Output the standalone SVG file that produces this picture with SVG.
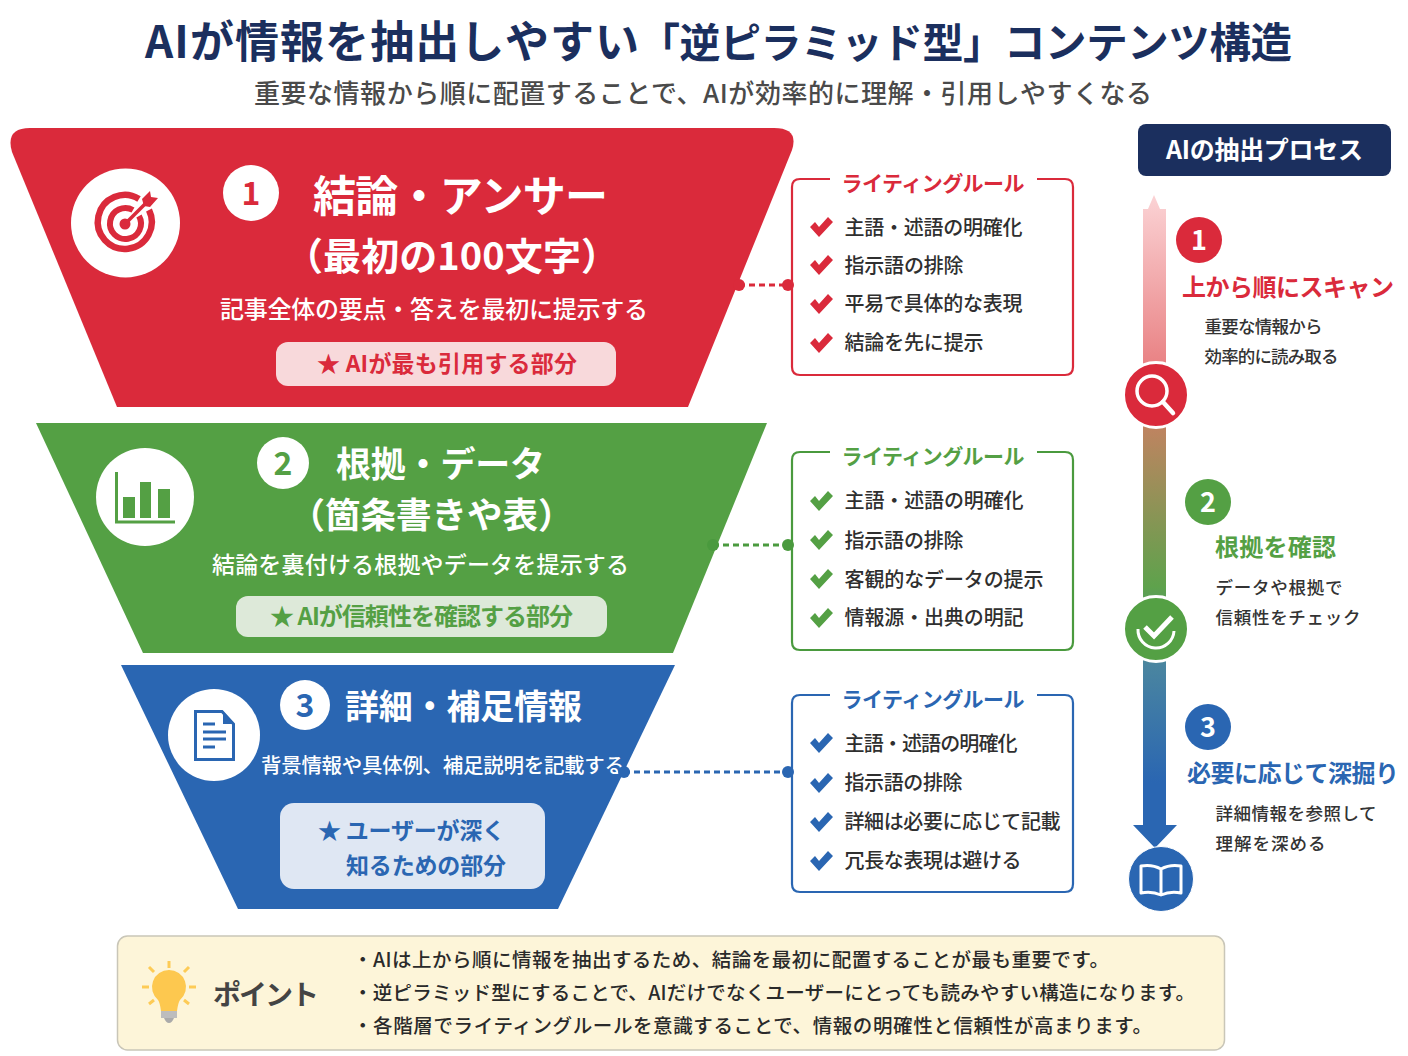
<svg xmlns="http://www.w3.org/2000/svg" xmlns:xlink="http://www.w3.org/1999/xlink" width="1408" height="1056" viewBox="0 0 1408 1056">
<style>
text{font-family:"Noto Sans CJK JP","Noto Sans",sans-serif;font-weight:700}
.w{fill:#fff}.r{fill:#da2a3b}.g{fill:#54a044}.b{fill:#2a66b2}
.rs{stroke:#da2a3b}.gs{stroke:#4a9a3e}.bs{stroke:#2a66b2}
.rule{font-size:20px;fill:#2f2f2f;font-weight:500}
.rh{font-size:21px}
.box{fill:none;stroke-width:2.2}
.dash{fill:none;stroke-width:3;stroke-dasharray:6 4}
.desc{font-size:17.5px;fill:#333;font-weight:500}
.pt{font-size:19.5px;fill:#2a2a2a;font-weight:500}
.num{font-size:32px;text-anchor:middle}
.num2{font-size:27px;text-anchor:middle;fill:#fff}
</style>
<defs>
<path id="chk" d="M-11 0 L-6 -5 L-2 0 L7 -10 L12 -5 L-2 10 Z" stroke-linejoin="round"/>
<linearGradient id="flow" gradientUnits="userSpaceOnUse" x1="0" y1="195" x2="0" y2="848">
<stop offset="0" stop-color="#fbd3d5"/><stop offset="0.26" stop-color="#e98284"/><stop offset="0.36" stop-color="#bd8460"/><stop offset="0.6" stop-color="#5ea24c"/><stop offset="0.72" stop-color="#4a85a0"/><stop offset="0.9" stop-color="#2a66b2"/>
</linearGradient>
</defs>
<rect width="1408" height="1056" fill="#fff"/>
<g id="title">
<text y="58" fill="#1b2f5e"><tspan x="145" font-size="44" textLength="494">AIが情報を抽出しやすい</tspan><tspan x="639" font-size="41" textLength="365">「逆ピラミッド型」</tspan><tspan x="1004" font-size="41.500" textLength="288">コンテンツ構造</tspan></text>
<text x="254" y="103" font-size="26" fill="#4a4a4a" textLength="898" style="font-weight:500">重要な情報から順に配置することで、AIが効率的に理解・引用しやすくなる</text>
</g>
<g id="tier1">
<path class="r" d="M30 128H774Q799 128 792 150L688 407H117L12 152Q5 128 30 128Z"/>
<circle class="w" cx="125.500" cy="223" r="54.500"/>
<g fill="none" stroke="#da2a3b">
<path d="M139 199A27 27 0 1 0 149 210" stroke-width="6.500"/>
<path d="M133 210A15.500 15.500 0 1 0 139 216" stroke-width="6"/>
<path d="M125 224L146 203" stroke-width="3.500"/>
</g>
<circle class="r" cx="125" cy="224" r="5.500"/>
<path class="r" d="M142 199L150 191L151 197L158 198L150 207L144 206Z"/>
<circle class="w" cx="251" cy="193" r="28"/>
<text class="num r" x="251" y="205">1</text>
<text class="w" x="313" y="212" font-size="43" textLength="295">結論・アンサー</text>
<text class="w" x="285" y="270" font-size="38" textLength="334">（最初の100文字）</text>
<text class="w" x="220" y="318" font-size="24" textLength="428" style="font-weight:500">記事全体の要点・答えを最初に提示する</text>
<rect x="276" y="342" width="340" height="44" rx="12" fill="#f8d9db"/>
<text class="r" x="317" y="372" font-size="23" textLength="260">★ AIが最も引用する部分</text>
</g>
<g id="tier2">
<path class="g" d="M36 423H767L673 653H143Z"/>
<circle class="w" cx="145" cy="497" r="49"/>
<path d="M116.500 472V522H175" fill="none" stroke="#54a044" stroke-width="3"/>
<rect class="g" x="123" y="497" width="12" height="21"/><rect class="g" x="140" y="482" width="11" height="36"/><rect class="g" x="158" y="489" width="12" height="29"/>
<circle class="w" cx="283" cy="463" r="26"/>
<text class="num g" x="283" y="475">2</text>
<text class="w" x="336" y="477" font-size="35" textLength="209">根拠・データ</text>
<text class="w" x="289.500" y="528" font-size="35.500" textLength="284">（箇条書きや表）</text>
<text class="w" x="212" y="573" font-size="23" textLength="417" style="font-weight:500">結論を裏付ける根拠やデータを提示する</text>
<rect x="236" y="596" width="371" height="41" rx="12" fill="#dde9d9"/>
<text class="g" x="270" y="625" font-size="24" textLength="303">★ AIが信頼性を確認する部分</text>
</g>
<g id="tier3">
<path class="b" d="M121 665H675L558 909H238Z"/>
<circle class="w" cx="214" cy="735" r="46"/>
<path d="M195.500 711.500H222L233.500 724V759.500H195.500Z" fill="none" stroke="#2a66b2" stroke-width="3"/>
<path class="b" d="M223 711L234 724H223Z"/>
<path d="M203 724H215M203 732H226M203 739H226M203 747H215" fill="none" stroke="#2a66b2" stroke-width="3"/>
<circle class="w" cx="305" cy="705" r="25"/>
<text class="num b" x="305" y="717">3</text>
<text class="w" x="345" y="719" font-size="34" textLength="237">詳細・補足情報</text>
<text class="w" x="261" y="773" font-size="20.500" textLength="364" style="font-weight:500">背景情報や具体例、補足説明を記載する</text>
<rect x="280" y="803" width="265" height="86" rx="14" fill="#dfe7f3"/>
<text class="b" x="318" y="839" font-size="23" textLength="187">★ ユーザーが深く</text>
<text class="b" x="346" y="874" font-size="23" textLength="160">知るための部分</text>
</g>
<g id="connectors">
<path class="dash rs" d="M739 285H788"/>
<path class="dash gs" d="M713 545H788"/>
<path class="dash bs" d="M624 772H788"/>
<circle class="r" cx="739" cy="285" r="6"/><circle class="r" cx="788" cy="285" r="6"/>
<circle fill="#4a9a3e" cx="713" cy="545" r="6"/><circle fill="#4a9a3e" cx="788" cy="545" r="6"/>
<circle class="b" cx="624" cy="772" r="6"/><circle class="b" cx="788" cy="772" r="6"/>
</g>
<g id="rules1">
<path class="box rs" d="M830 179H800Q792 179 792 187V367Q792 375 800 375H1065Q1073 375 1073 367V187Q1073 179 1065 179H1037"/>
<text class="r rh" x="841.500" y="191" textLength="183">ライティングルール</text>
<use href="#chk" class="r" x="821" y="227"/><use href="#chk" class="r" x="821" y="265"/><use href="#chk" class="r" x="821" y="304"/><use href="#chk" class="r" x="821" y="343"/>
<text class="rule" x="844.500" y="235" textLength="178">主語・述語の明確化</text>
<text class="rule" x="844.500" y="273" textLength="119">指示語の排除</text>
<text class="rule" x="844.500" y="311" textLength="178">平易で具体的な表現</text>
<text class="rule" x="844.500" y="350" textLength="139">結論を先に提示</text>
</g>
<g id="rules2">
<path class="box gs" d="M830 452H800Q792 452 792 460V642Q792 650 800 650H1065Q1073 650 1073 642V460Q1073 452 1065 452H1037"/>
<text class="g rh" x="841.500" y="464" textLength="183">ライティングルール</text>
<use href="#chk" class="g" x="821" y="501"/><use href="#chk" class="g" x="821" y="540"/><use href="#chk" class="g" x="821" y="579"/><use href="#chk" class="g" x="821" y="618"/>
<text class="rule" x="844.500" y="508" textLength="179">主語・述語の明確化</text>
<text class="rule" x="844.500" y="548" textLength="119">指示語の排除</text>
<text class="rule" x="844.500" y="587" textLength="199">客観的なデータの提示</text>
<text class="rule" x="844.500" y="625" textLength="179">情報源・出典の明記</text>
</g>
<g id="rules3">
<path class="box bs" d="M830 695H800Q792 695 792 703V884Q792 892 800 892H1065Q1073 892 1073 884V703Q1073 695 1065 695H1037"/>
<text class="b rh" x="841.500" y="707" textLength="183">ライティングルール</text>
<use href="#chk" class="b" x="821" y="743"/><use href="#chk" class="b" x="821" y="783"/><use href="#chk" class="b" x="821" y="822"/><use href="#chk" class="b" x="821" y="861"/>
<text class="rule" x="844.500" y="751" textLength="173">主語・述語の明確化</text>
<text class="rule" x="844.500" y="790" textLength="118">指示語の排除</text>
<text class="rule" x="844.500" y="829" textLength="216">詳細は必要に応じて記載</text>
<text class="rule" x="844.500" y="868" textLength="177">冗長な表現は避ける</text>
</g>
<g id="process">
<rect x="1138" y="124" width="253" height="52" rx="8" fill="#1b2f5e"/>
<text class="w" x="1166" y="159" font-size="25" textLength="197">AIの抽出プロセス</text>
<path fill="url(#flow)" d="M1154 195L1160 209H1166V825H1177L1155 848L1133 825H1143V209H1148Z"/>
</g>
<g id="icon-search">
<circle class="r" cx="1156" cy="395" r="32.500" stroke="#fff" stroke-width="3"/>
<circle cx="1152" cy="391" r="15" fill="none" stroke="#fff" stroke-width="3.500"/>
<path d="M1163 402L1173 413" stroke="#fff" stroke-width="4.500" stroke-linecap="round"/>
</g>
<g id="icon-check">
<circle class="g" cx="1156" cy="629" r="32.500" stroke="#fff" stroke-width="3"/>
<path d="M1138 629A18 18 0 0 0 1174 631" fill="none" stroke="#fff" stroke-width="3"/>
<path d="M1145 627L1154 636L1172 617" fill="none" stroke="#fff" stroke-width="5"/>
</g>
<g id="icon-book">
<circle class="b" cx="1161" cy="879" r="32.500" stroke="#fff" stroke-width="1"/>
<path d="M1141 866Q1152 864 1161 869Q1170 864 1181 866V893Q1170 891 1161 895Q1152 891 1141 893ZM1161 869V895" fill="none" stroke="#fff" stroke-width="3" stroke-linejoin="round"/>
</g>
<g id="step1">
<circle class="r" cx="1199" cy="240" r="23"/>
<text class="num2" x="1199" y="250">1</text>
<text class="r" x="1182" y="296" font-size="24" textLength="212">上から順にスキャン</text>
<text class="desc" x="1204.500" y="333" textLength="118">重要な情報から</text>
<text class="desc" x="1204.500" y="363" textLength="134">効率的に読み取る</text>
</g>
<g id="step2">
<circle class="g" cx="1208" cy="502" r="23"/>
<text class="num2" x="1208" y="512">2</text>
<text class="g" x="1215" y="556" font-size="24" textLength="121">根拠を確認</text>
<text class="desc" x="1215.500" y="594" textLength="127">データや根拠で</text>
<text class="desc" x="1215.500" y="624" textLength="145">信頼性をチェック</text>
</g>
<g id="step3">
<circle class="b" cx="1208" cy="727" r="23"/>
<text class="num2" x="1208" y="737">3</text>
<text class="b" x="1187" y="782" font-size="24" textLength="212">必要に応じて深掘り</text>
<text class="desc" x="1215.500" y="820" textLength="161">詳細情報を参照して</text>
<text class="desc" x="1215.500" y="850" textLength="110">理解を深める</text>
</g>
<g id="point">
<rect x="117.500" y="936" width="1107" height="114" rx="10" fill="#fdf5d9" stroke="#c9c6b8" stroke-width="1.500"/>
<path d="M169 961V968M149 967L154 972M189 967L184 972M142 987H149M189 987H196M149 1004L154 1000M189 1004L184 1000" stroke="#fdcb56" stroke-width="3" fill="none"/>
<path d="M169 970A17 17 0 0 1 180 1000Q178 1003 177 1011H161Q160 1003 158 1000A17 17 0 0 1 169 970Z" fill="#fdc84f"/>
<rect x="161" y="1011" width="16" height="7" fill="#bdbdbd"/>
<path d="M164 1018H174Q172 1023 169 1023Q166 1023 164 1018Z" fill="#aaa"/>
<text x="213" y="1005" font-size="28" fill="#444" textLength="106">ポイント</text>
<text class="pt" x="353" y="967" textLength="756">・AIは上から順に情報を抽出するため、結論を最初に配置することが最も重要です。</text>
<text class="pt" x="353" y="1000" textLength="842">・逆ピラミッド型にすることで、AIだけでなくユーザーにとっても読みやすい構造になります。</text>
<text class="pt" x="353" y="1033" textLength="799">・各階層でライティングルールを意識することで、情報の明確性と信頼性が高まります。</text>
</g>
</svg>
